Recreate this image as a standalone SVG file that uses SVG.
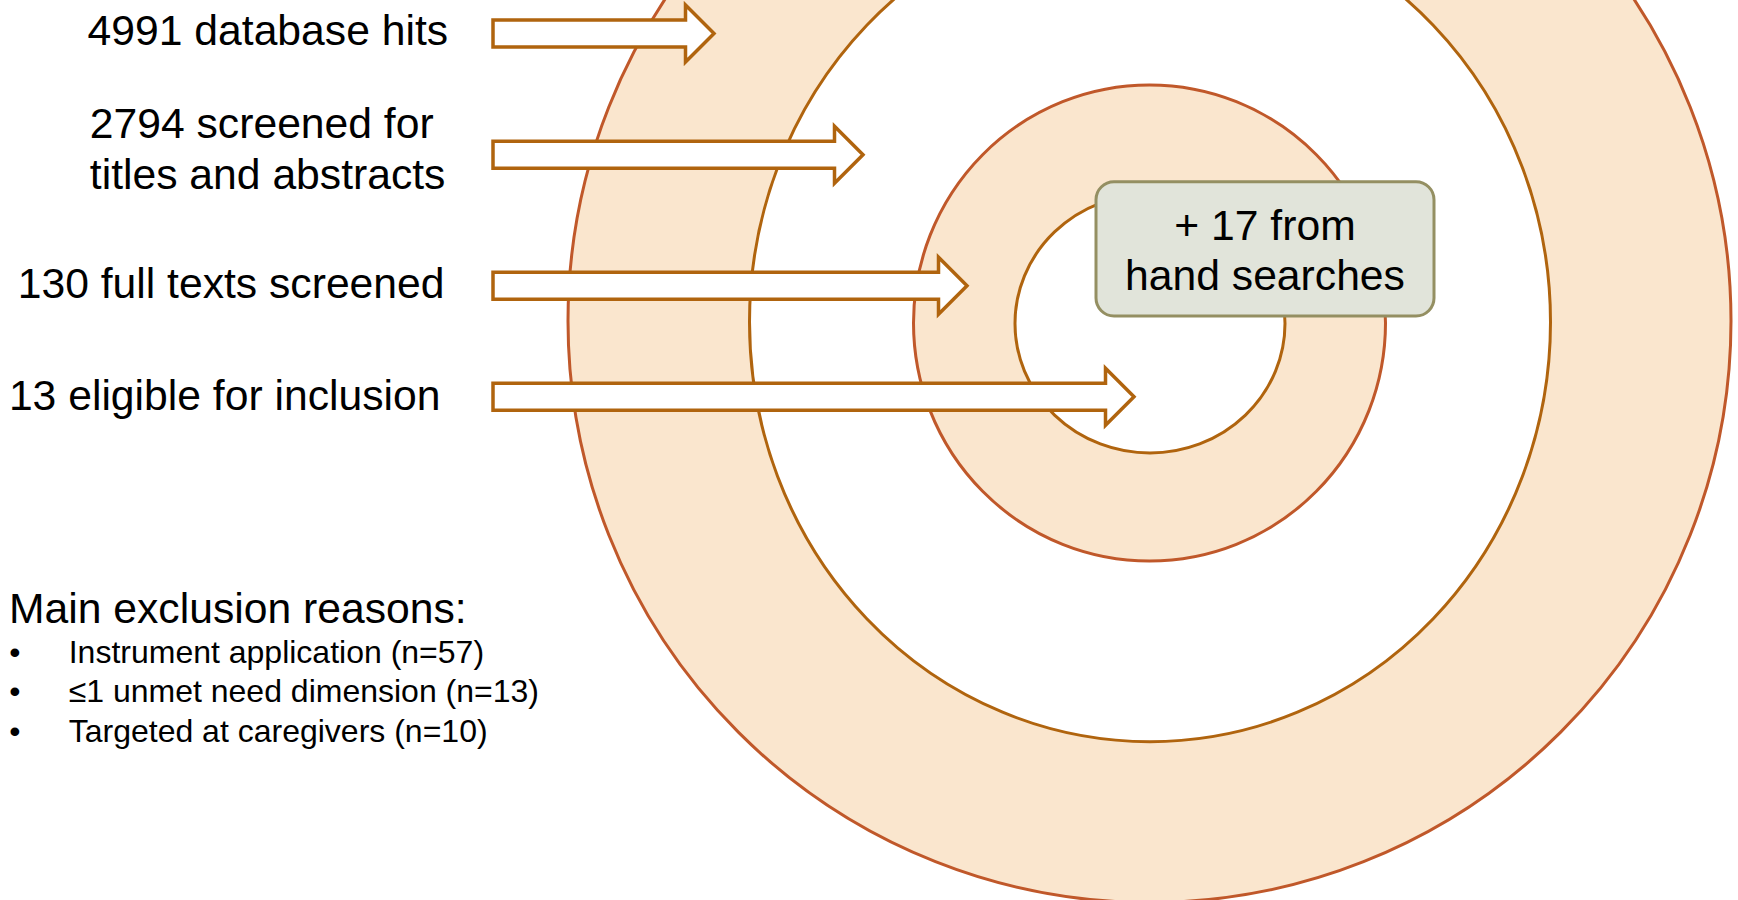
<svg xmlns="http://www.w3.org/2000/svg" width="1738" height="900" viewBox="0 0 1738 900">
  <style>
    .ring { fill: #FAE6CE; stroke: #C0582A; stroke-width: 3; }
    .hole { fill: #FFFFFF; stroke: #B0640E; stroke-width: 3; }
    .arrow { fill: #FFFFFF; stroke: #B0640E; stroke-width: 3.5; stroke-linejoin: miter; }
    .label { font-family: "Liberation Sans", Arial, sans-serif; font-size: 42.67px; fill: #000000; }
    .head { font-family: "Liberation Sans", Arial, sans-serif; font-size: 42.67px; fill: #000000; }
    .item { font-family: "Liberation Sans", Arial, sans-serif; font-size: 32px; fill: #000000; }
    .box { fill: #E1E4DA; stroke: #948F62; stroke-width: 3; }
  </style>

  <!-- concentric target rings -->
  <g id="rings">
    <circle class="ring" cx="1149.5" cy="321" r="581.5"/>
    <ellipse class="hole" cx="1150" cy="322" rx="400.5" ry="419.7"/>
    <ellipse class="ring" cx="1149.5" cy="323" rx="236" ry="238"/>
    <ellipse class="hole" cx="1150" cy="323.5" rx="135" ry="129.5"/>
  </g>

  <!-- screening stage arrows -->
  <g id="connectors">
    <polygon class="arrow" points="493,20 685.5,20 685.5,5 714,33.5 685.5,62 685.5,47 493,47"/>
    <polygon class="arrow" points="493,141.2 834.5,141.2 834.5,126.2 863,154.7 834.5,183.2 834.5,168.2 493,168.2"/>
    <polygon class="arrow" points="493,272.2 938.5,272.2 938.5,257.2 967,285.7 938.5,314.2 938.5,299.2 493,299.2"/>
    <polygon class="arrow" points="493,383.3 1105.5,383.3 1105.5,368.3 1134,396.8 1105.5,425.3 1105.5,410.3 493,410.3"/>
  </g>

  <g id="stage-hits">
    <text class="label" x="87.6" y="44.5">4991 database hits</text>
  </g>
  <g id="stage-titles">
    <text class="label" x="89.8" y="138">2794 screened for</text>
    <text class="label" x="89.8" y="189">titles and abstracts</text>
  </g>
  <g id="stage-fulltexts">
    <text class="label" x="17.7" y="298">130 full texts screened</text>
  </g>
  <g id="stage-eligible">
    <text class="label" x="8.9" y="410">13 eligible for inclusion</text>
  </g>

  <g id="hand-searches">
    <rect class="box" x="1096" y="181.7" width="338" height="134.3" rx="18" ry="18"/>
    <text class="label" x="1265" y="240" text-anchor="middle">+ 17 from</text>
    <text class="label" x="1265" y="290" text-anchor="middle">hand searches</text>
  </g>

  <g id="exclusions">
    <text class="head" x="9" y="622.5">Main exclusion reasons:</text>
    <text class="item" x="9.3" y="663">•</text>
    <text class="item" x="68.7" y="663">Instrument application (n=57)</text>
    <text class="item" x="9.3" y="702">•</text>
    <text class="item" x="68.7" y="702">≤1 unmet need dimension (n=13)</text>
    <text class="item" x="9.3" y="741.5">•</text>
    <text class="item" x="68.7" y="741.5">Targeted at caregivers (n=10)</text>
  </g>
</svg>
